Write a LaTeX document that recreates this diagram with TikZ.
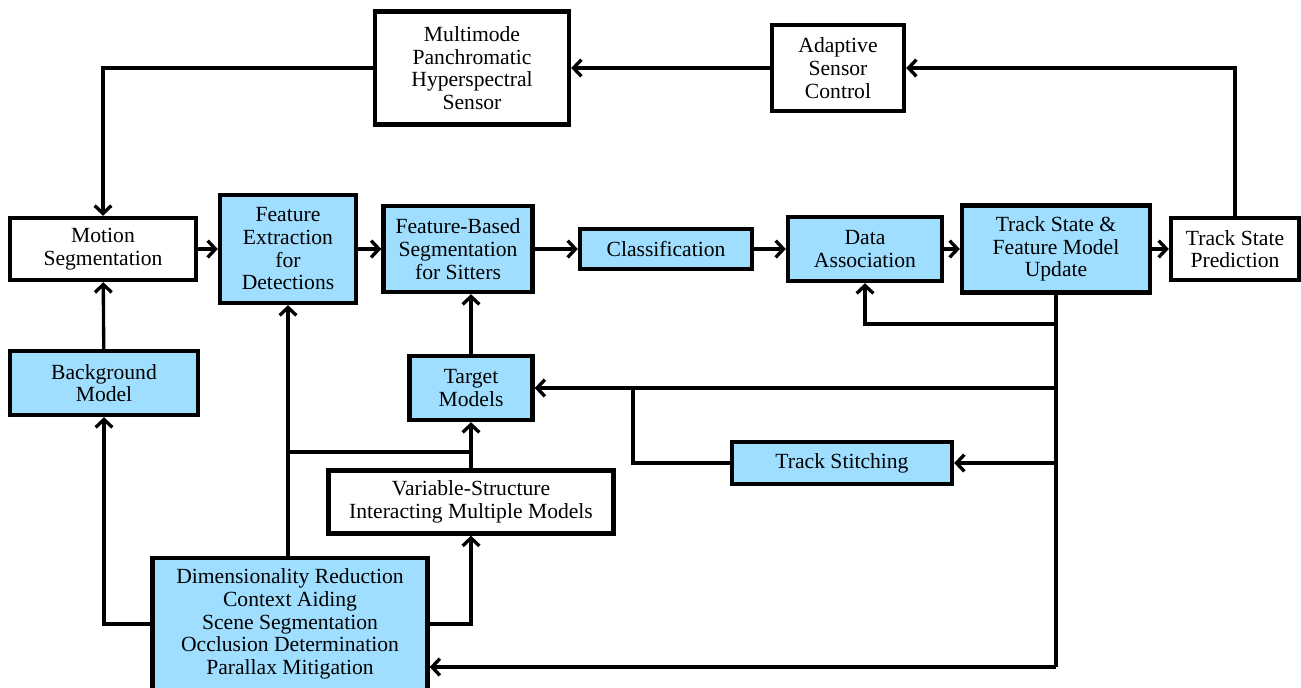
\documentclass[tikz,border=0pt]{standalone}
\usepackage{fontspec}
\setmainfont{Liberation Serif}
\newfontfamily\boxfont{Liberation Serif}
\usetikzlibrary{arrows.meta}
\definecolor{boxblue}{RGB}{160,222,255}
\tikzset{%
    blk/.style={draw,line width=2.5pt,align=center,inner sep=1pt,
        font=\boxfont\fontsize{12.3}{12.9}\selectfont},
    wblk/.style={blk,fill=white},
    bblk/.style={blk,fill=boxblue}
}

\begin{document}
\begin{tikzpicture}[x=0.02cm,y=-0.02cm,
            edge/.style={line width=1.9pt},
            arr/.style={edge,-{Straight Barb[length=4.5pt,width=9.5pt]}}
            ]
            \useasboundingbox (0,0) rectangle (1301,687);
            \node[wblk,minimum width=3.88cm,minimum height=2.26cm] (sensor) at (472,68) {Multimode\\Panchromatic\\Hyperspectral\\Sensor};
            \node[wblk,minimum width=2.64cm,minimum height=1.72cm] (adapt) at (838,68) {Adaptive\\Sensor\\Control};
            \node[wblk,minimum width=3.72cm,minimum height=1.24cm] (motion) at (103,249) {Motion\\Segmentation};
            \node[bblk,minimum width=2.72cm,minimum height=2.16cm] (featx) at (288,249) {Feature\\Extraction\\for\\Detections};
            \node[bblk,minimum width=2.98cm,minimum height=1.72cm] (fbseg) at (458,249) {Feature-Based\\Segmentation\\for Sitters};
            \node[bblk,minimum width=3.44cm,minimum height=0.80cm] (classif) at (666,249) {Classification};
            \node[bblk,minimum width=3.08cm,minimum height=1.28cm] (dassoc) at (865,249) {Data\\Association};
            \node[bblk,minimum width=3.76cm,minimum height=1.74cm] (update) at (1056,249) {Track State \&\\Feature Model\\Update};
            \node[wblk,minimum width=2.56cm,minimum height=1.24cm] (predict) at (1235,249) {Track State\\Prediction};
            \node[bblk,minimum width=3.76cm,minimum height=1.28cm] (bgmodel) at (104,383) {Background\\Model};
            \node[bblk,minimum width=2.46cm,minimum height=1.28cm] (target) at (471,388) {Target\\Models};
            \node[wblk,minimum width=5.70cm,minimum height=1.26cm] (vsimm) at (471,502) {Variable-Structure\\Interacting Multiple Models};
            \node[bblk,minimum width=4.40cm,minimum height=0.84cm] (stitch) at (842,463) {Track Stitching};
            \node[bblk,minimum width=5.50cm,minimum height=2.64cm] (dimred) at (290,624) {Dimensionality Reduction\\Context Aiding\\Scene Segmentation\\Occlusion Determination\\Parallax Mitigation};

            \coordinate (tj) at (471,452);
            \coordinate (k1) at (1056,324);
            \coordinate (k2) at (1056,388);
            \coordinate (k3) at (1056,463);
            \coordinate (k4) at (1056,667);
            \coordinate (k5) at (633,388);

            \draw[arr] (sensor.west) -| (motion.north);
            \draw[arr] (adapt.west) -- (sensor.east);
            \draw[arr] (predict.north) |- (adapt.east);
            \draw[arr] (motion) -- (featx);
            \draw[arr] (featx) -- (fbseg);
            \draw[arr] (fbseg) -- (classif);
            \draw[arr] (classif) -- (dassoc);
            \draw[arr] (dassoc) -- (update);
            \draw[arr] (update) -- (predict);
            \draw[arr] (bgmodel) -- (motion);
            \draw[arr] (dimred.west) -| (bgmodel.south);
            \draw[arr] (featx |- dimred.north) -- (featx.south);
            \draw[edge] (featx |- tj) -- (tj);
            \draw[arr] (vsimm.north) -- (target.south);
            \draw[arr] (dimred.east) -| (vsimm.south);
            \draw[arr] (target.north) -- (target.north |- fbseg.south);
            \draw[edge] (update.south) -- (k4);
            \draw[arr] (k1) -| (dassoc.south);
            \draw[arr] (k2) -- (target.east);
            \draw[arr] (k3) -- (stitch.east);
            \draw[arr] (k4) -- (dimred.east |- k4);
            \draw[edge] (stitch.west) -| (k5);
        \end{tikzpicture}
\end{document}
